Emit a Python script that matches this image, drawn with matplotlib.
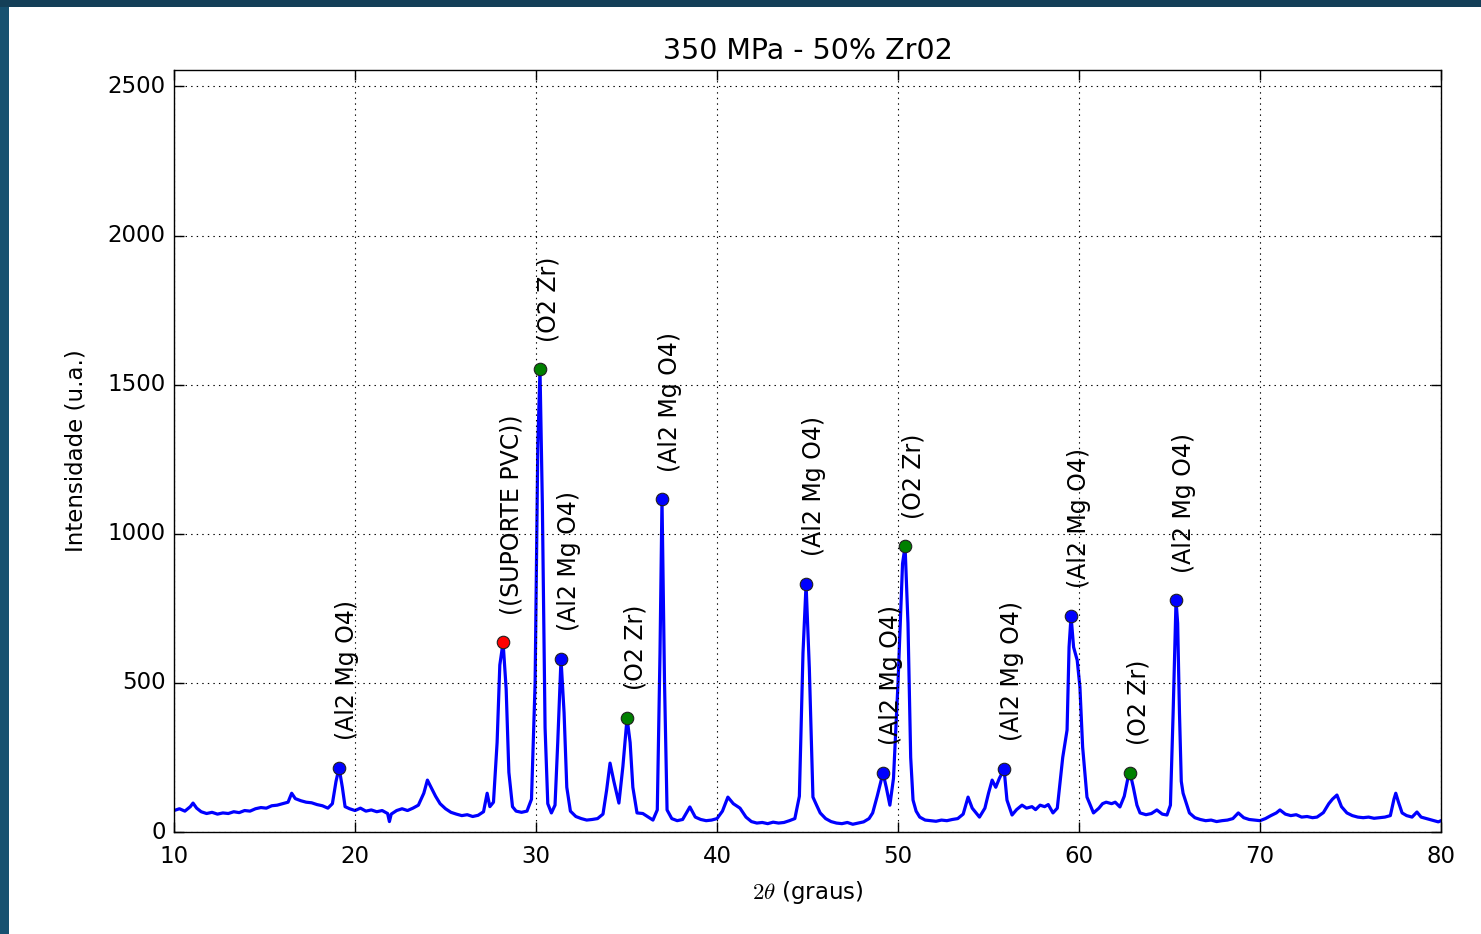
import numpy as np
import matplotlib
matplotlib.use('Agg')
import matplotlib.pyplot as plt
from matplotlib.patches import Rectangle


# ==========================================================================
# XRD pattern (2theta in degrees, counts)

two_theta = [
    10.0, 10.3, 10.6, 10.9, 11.05, 11.25, 11.5, 11.8, 12.1, 12.4, 12.7, 13.0,
    13.3, 13.6, 13.9, 14.2, 14.5, 14.8, 15.1, 15.4, 15.7, 16.0, 16.3, 16.5,
    16.7, 17.0, 17.3, 17.6, 17.9, 18.2, 18.5, 18.75, 18.95, 19.12, 19.3, 19.45,
    19.7, 20.0, 20.3, 20.6, 20.9, 21.2, 21.5, 21.8, 21.9, 22.0, 22.3, 22.6,
    22.9, 23.2, 23.5, 23.8, 24.0, 24.2, 24.45, 24.7, 25.0, 25.3, 25.6, 25.9,
    26.2, 26.5, 26.8, 27.1, 27.3, 27.45, 27.65, 27.85, 28.0, 28.18, 28.35, 28.5,
    28.7, 28.9, 29.2, 29.5, 29.75, 29.95, 30.1, 30.22, 30.35, 30.5, 30.65, 30.85,
    31.05, 31.2, 31.38, 31.55, 31.7, 31.9, 32.2, 32.5, 32.8, 33.1, 33.4, 33.7,
    33.9, 34.09, 34.3, 34.58, 34.8, 35.03, 35.2, 35.35, 35.58, 35.9, 36.2, 36.46,
    36.7, 36.85, 36.96, 37.1, 37.24, 37.5, 37.8, 38.1, 38.5, 38.8, 39.1, 39.4,
    39.7, 40.0, 40.3, 40.6, 40.9, 41.27, 41.6, 41.9, 42.2, 42.5, 42.8, 43.1,
    43.4, 43.7, 44.0, 44.3, 44.55, 44.75, 44.92, 45.1, 45.3, 45.5, 45.7, 46.0,
    46.3, 46.6, 46.9, 47.2, 47.5, 47.8, 48.1, 48.4, 48.6, 48.85, 49.17, 49.35,
    49.55, 49.75, 50.0, 50.25, 50.39, 50.55, 50.7, 50.83, 51.0, 51.2, 51.5, 51.8,
    52.1, 52.4, 52.7, 53.0, 53.3, 53.6, 53.87, 54.1, 54.5, 54.8, 55.0, 55.2,
    55.4, 55.6, 55.86, 56.02, 56.3, 56.55, 56.85, 57.1, 57.4, 57.6, 57.85, 58.1,
    58.3, 58.56, 58.8, 58.95, 59.1, 59.34, 59.45, 59.56, 59.7, 59.9, 60.05, 60.2,
    60.44, 60.8, 61.1, 61.3, 61.5, 61.8, 62.0, 62.26, 62.5, 62.7, 62.82, 63.0,
    63.2, 63.37, 63.7, 64.0, 64.3, 64.6, 64.86, 65.05, 65.2, 65.36, 65.45, 65.55,
    65.65, 65.75, 66.1, 66.4, 66.7, 67.0, 67.3, 67.6, 67.9, 68.2, 68.5, 68.8,
    69.1, 69.4, 69.7, 70.0, 70.3, 70.6, 70.9, 71.1, 71.4, 71.7, 72.0, 72.3,
    72.6, 72.9, 73.15, 73.5, 73.8, 74.0, 74.25, 74.5, 74.8, 75.1, 75.4, 75.7,
    76.0, 76.3, 76.6, 76.9, 77.2, 77.4, 77.5, 77.65, 77.85, 78.1, 78.4, 78.67,
    78.9, 79.2, 79.5, 79.85, 80.0,
]

intensity = [
    72, 78, 70, 85, 97, 80, 68, 62, 66, 60, 64, 62,
    68, 65, 72, 70, 78, 82, 80, 88, 90, 95, 100, 130,
    112, 105, 100, 98, 92, 88, 80, 95, 170, 215, 150, 85,
    78, 72, 80, 70, 74, 68, 72, 62, 35, 60, 72, 78,
    72, 80, 90, 130, 174, 150, 120, 95, 78, 66, 60, 55,
    58, 52, 56, 68, 130, 85, 100, 300, 560, 636, 480, 200,
    85, 70, 66, 70, 110, 500, 1300, 1551, 1100, 350, 95, 64,
    90, 300, 580, 400, 150, 70, 52, 45, 40, 42, 45, 60,
    140, 231, 170, 97, 220, 382, 300, 150, 64, 62, 50, 40,
    74, 600, 1115, 500, 74, 45, 38, 42, 84, 50, 42, 38,
    40, 45, 70, 117, 95, 80, 50, 35, 30, 32, 28, 33,
    30, 32, 38, 45, 120, 600, 831, 550, 117, 90, 64, 45,
    35, 30, 28, 32, 26, 30, 34, 45, 64, 120, 198, 150,
    90, 180, 500, 900, 958, 700, 250, 107, 70, 50, 40, 38,
    36, 40, 38, 42, 45, 60, 117, 80, 50, 80, 130, 174,
    150, 180, 211, 107, 57, 75, 90, 80, 85, 75, 90, 85,
    92, 64, 80, 164, 250, 342, 620, 724, 620, 576, 486, 285,
    117, 64, 80, 95, 100, 95, 100, 84, 120, 180, 198, 150,
    90, 64, 58, 62, 74, 60, 57, 90, 400, 777, 700, 400,
    170, 130, 64, 48, 42, 38, 40, 35, 38, 40, 45, 64,
    48, 42, 40, 38, 45, 55, 64, 74, 60, 55, 58, 50,
    52, 48, 50, 65, 95, 110, 124, 85, 64, 55, 50, 48,
    50, 46, 48, 50, 55, 110, 130, 100, 64, 55, 50, 67,
    50, 45, 40, 34, 38,
]

# identified peaks
peak_pos = [19.12, 28.18, 30.22, 31.38, 35.03, 36.96, 44.92, 49.17, 50.39,
            55.86, 59.56, 62.82, 65.36]
peak_int = [215, 636, 1551, 580, 382, 1115, 831, 198, 958,
            211, 724, 198, 777]
peak_label = ['(Al2 Mg O4)', '((SUPORTE PVC))', '(O2 Zr)', '(Al2 Mg O4)',
              '(O2 Zr)', '(Al2 Mg O4)', '(Al2 Mg O4)', '(Al2 Mg O4)',
              '(O2 Zr)', '(Al2 Mg O4)', '(Al2 Mg O4)', '(O2 Zr)',
              '(Al2 Mg O4)']
peak_color = ['b', 'r', 'g', 'b', 'g', 'b', 'b', 'b', 'g', 'b', 'b', 'g', 'b']


# ==========================================================================

plt.style.use('classic')
plt.rcParams['font.family'] = 'DejaVu Sans'
plt.rcParams['font.size'] = 16.5

fig = plt.figure(figsize=(14.81, 9.34), dpi=100, facecolor='white')

# slide background edges visible in the screenshot
fig.patches.append(Rectangle((0, 0), 0.0062, 1, transform=fig.transFigure,
                             facecolor='#175170', edgecolor='none', zorder=-1))
fig.patches.append(Rectangle((0, 0.9925), 1, 0.0075, transform=fig.transFigure,
                             facecolor='#143f58', edgecolor='none', zorder=-1))

ax = fig.add_axes([0.1175, 0.1092, 0.8555, 0.8158])

ax.plot(two_theta, intensity, '-', color='b', lw=2.3)

for x, y, lab, c in zip(peak_pos, peak_int, peak_label, peak_color):
    ax.plot([x], [y], 'o', color=c, markersize=9, markeredgecolor='#202020',
            markeredgewidth=0.8, zorder=5)
    ax.annotate(lab, (x, y), xytext=(6, 20), textcoords='offset points',
                rotation=90, ha='center', va='bottom', fontsize=17)

ax.set_xlim(10, 80)
ax.set_ylim(0, 2555)
ax.set_xticks(np.arange(10, 81, 10))
ax.set_yticks(np.arange(0, 2501, 500))
ax.grid(True, linestyle=':', color='k', linewidth=0.8)
ax.tick_params(direction='in', length=7, width=1, top=True, right=True)
ax.tick_params(axis='x', pad=9)
ax.tick_params(axis='y', pad=6)

ax.set_title('350 MPa - 50% Zr02', y=1.005, fontsize=20.5)
ax.set_xlabel(r'$2\theta$ (graus)', labelpad=8)
ax.set_ylabel('Intensidade (u.a.)', labelpad=14)

fig.savefig('out.png', dpi=100, facecolor='white')
